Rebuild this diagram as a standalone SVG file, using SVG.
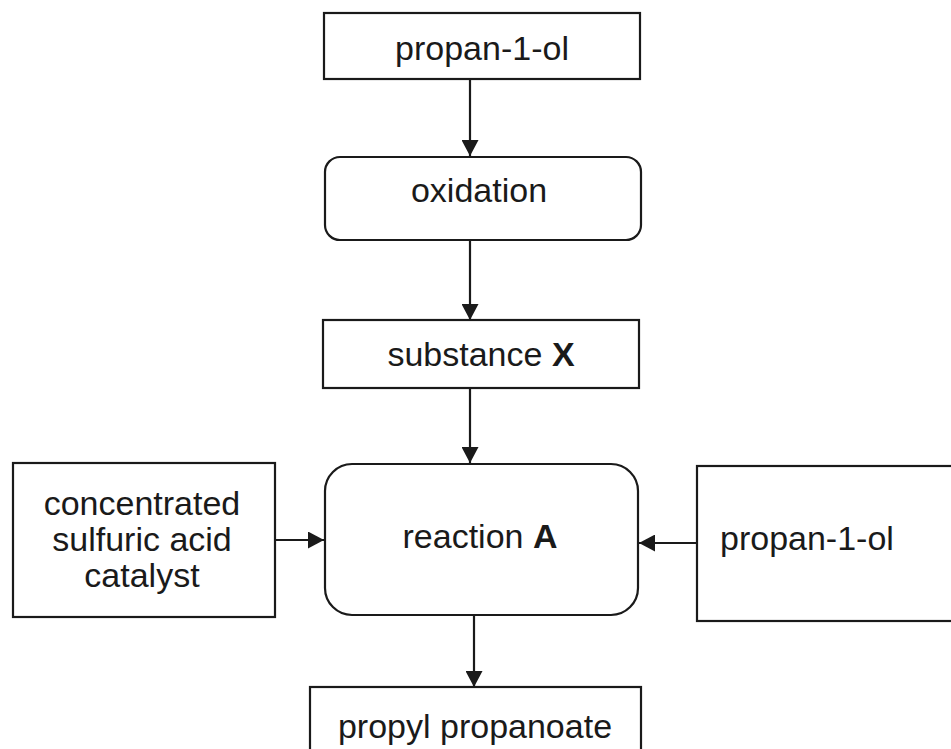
<svg xmlns="http://www.w3.org/2000/svg" width="951" height="749" viewBox="0 0 951 749">
  <style>
    .box { fill: #fff; stroke: #1a1a1a; stroke-width: 2.2; }
    .lbl { font-family: "Liberation Sans", Arial, sans-serif; font-size: 34px; fill: #1a1a1a; text-anchor: middle; }
    .lbl.left { text-anchor: start; }
    .edge { stroke: #1a1a1a; stroke-width: 2.2; fill: none; marker-end: url(#arrow); }
  </style>
  <defs>
    <marker id="arrow" markerWidth="16" markerHeight="17" refX="16" refY="8.5" orient="auto" markerUnits="userSpaceOnUse">
      <path d="M0,0 L16,8.5 L0,17 Z" fill="#1a1a1a"/>
    </marker>
  </defs>
  <rect width="951" height="749" fill="#fff"/>

  <g id="connectors">
    <line class="edge" x1="470" y1="79" x2="470" y2="156"/>
    <line class="edge" x1="470" y1="240" x2="470" y2="320"/>
    <line class="edge" x1="470" y1="388" x2="470" y2="463"/>
    <line class="edge" x1="275" y1="540" x2="324" y2="540"/>
    <line class="edge" x1="697" y1="543" x2="639" y2="543"/>
    <line class="edge" x1="474" y1="615" x2="474" y2="687"/>
  </g>

  <g id="propanol-top">
    <rect class="box" x="324" y="13" width="316" height="66"/>
    <text class="lbl" x="482" y="60">propan-1-ol</text>
  </g>

  <g id="oxidation">
    <rect class="box" x="325" y="157" width="316" height="83" rx="15" ry="15"/>
    <text class="lbl" x="479" y="202">oxidation</text>
  </g>

  <g id="substance-x">
    <rect class="box" x="323" y="320" width="316" height="68"/>
    <text class="lbl" x="481" y="366">substance <tspan font-weight="bold">X</tspan></text>
  </g>

  <g id="catalyst">
    <rect class="box" x="13" y="463" width="262" height="154"/>
    <text class="lbl" x="142" y="515">concentrated</text>
    <text class="lbl" x="142" y="551">sulfuric acid</text>
    <text class="lbl" x="142" y="587">catalyst</text>
  </g>

  <g id="reaction-a">
    <rect class="box" x="325" y="464" width="313" height="151" rx="27" ry="27"/>
    <text class="lbl" x="480" y="548">reaction <tspan font-weight="bold">A</tspan></text>
  </g>

  <g id="propanol-right">
    <rect class="box" x="697" y="466" width="270" height="155"/>
    <text class="lbl left" x="720" y="550">propan-1-ol</text>
  </g>

  <g id="propyl-propanoate">
    <rect class="box" x="310" y="687" width="331" height="80"/>
    <text class="lbl" x="475" y="738">propyl propanoate</text>
  </g>
</svg>
